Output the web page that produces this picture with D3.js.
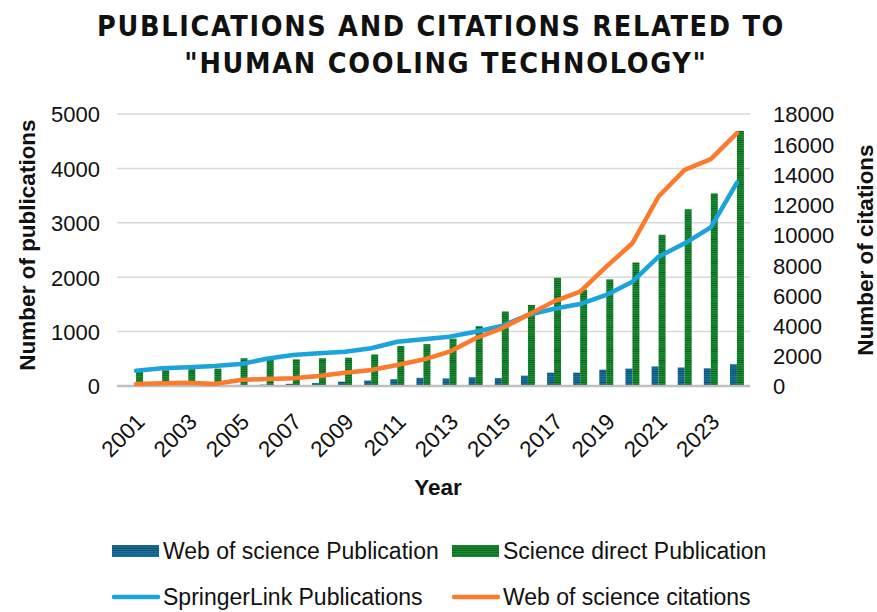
<!DOCTYPE html>
<html>
<head>
<meta charset="utf-8">
<style>
  body { margin: 0; background: #fff; }
  text { font-family: "Liberation Sans", Arial, sans-serif; fill: #111; }
  .title { font-family: "Liberation Sans Narrow", "DejaVu Sans Condensed", sans-serif; font-weight: bold; font-size: 28.5px; letter-spacing: 1.7px; }
  .tick text { font-size: 22px; }
  .axis-title { font-weight: bold; font-size: 22.5px; }
  .legend text { font-size: 23px; }
</style>
</head>
<body>
<script src="https://cdn.jsdelivr.net/npm/d3@7"></script>
<script>

var years = d3.range(2001, 2025);
var wosPubs = [5, 8, 10, 15, 20, 25, 40, 55, 80, 100, 125, 150, 140, 160, 145, 190, 245, 245, 300, 320, 360, 340, 325, 400];
var sdPubs = [270, 290, 310, 320, 510, 480, 490, 510, 520, 580, 735, 770, 870, 1100, 1370, 1490, 1990, 1770, 1960, 2270, 2780, 3250, 3540, 4690];
var springer = [281, 325, 343, 368, 404, 500, 570, 600, 630, 693, 814, 858, 907, 998, 1103, 1305, 1420, 1507, 1673, 1917, 2377, 2623, 2917, 3737];
var wosCites = [130, 180, 220, 130, 400, 470, 520, 660, 880, 1060, 1390, 1750, 2270, 3160, 3820, 4700, 5600, 6245, 7900, 9450, 12540, 14300, 15010, 16735];
var leftTicks = [0, 1000, 2000, 3000, 4000, 5000];
var rightTicks = d3.range(0, 18001, 2000);
var yearLabels = years.filter(function(d){ return (d - 2001) % 2 == 0; });

var width = 877, height = 612;
var plot = {left: 123, right: 750, top: 114, bottom: 386};

var svg = d3.select("body").append("svg")
  .attr("width", width)
  .attr("height", height);

// stripe patterns for the bars
var defs = svg.append("defs");
function stripes(id, base, line) {
  var p = defs.append("pattern")
    .attr("id", id)
    .attr("patternUnits", "userSpaceOnUse")
    .attr("width", 4).attr("height", 2.2);
  p.append("rect").attr("width", 4).attr("height", 2.2).attr("fill", base);
  p.append("rect").attr("y", 1.3).attr("width", 4).attr("height", 0.9).attr("fill", line);
}
stripes("wosPat", "#1d77a3", "#0d4b6c");
stripes("sdPat", "#1b9435", "#0a5c1b");

var x = d3.scaleBand().domain(years).range([plot.left, plot.right]).padding(0);
var x1 = d3.scaleBand().domain(["wos", "sd"]).range([0, x.bandwidth()]).paddingInner(0).paddingOuter(0.87);
var y = d3.scaleLinear().domain([0, 5000]).range([plot.bottom, plot.top]);
var y2 = d3.scaleLinear().domain([0, 18000]).range([plot.bottom, plot.top]);

// title
svg.append("text").attr("class", "title").attr("x", 441).attr("y", 36)
  .attr("text-anchor", "middle").text("PUBLICATIONS AND CITATIONS RELATED TO");
svg.append("text").attr("class", "title").attr("x", 446).attr("y", 73)
  .attr("text-anchor", "middle").text("\"HUMAN COOLING TECHNOLOGY\"");

// gridlines
svg.append("g").selectAll("line").data(leftTicks.slice(1)).enter()
  .append("line")
  .attr("x1", plot.left - 6).attr("x2", plot.right)
  .attr("y1", function(d){ return y(d); }).attr("y2", function(d){ return y(d); })
  .attr("stroke", "#d9d9d9").attr("stroke-width", 1.5);

// left axis
var gl = svg.append("g")
  .attr("transform", "translate(" + (plot.left - 23) + ",0)")
  .call(d3.axisLeft(y).tickValues(leftTicks).tickSize(0).tickPadding(0).tickFormat(d3.format("d")));
gl.select(".domain").remove();

// right axis
var gr = svg.append("g")
  .attr("transform", "translate(" + (plot.right + 23) + ",0)")
  .call(d3.axisRight(y2).tickValues(rightTicks).tickSize(0).tickPadding(0).tickFormat(d3.format("d")));
gr.select(".domain").remove();
svg.selectAll(".tick text").attr("fill", "#111").attr("dy", "0.36em");

// bars
var groups = svg.append("g").selectAll("g").data(years).enter()
  .append("g")
  .attr("transform", function(d){ return "translate(" + x(d) + ",0)"; });
groups.append("rect")
  .attr("x", x1("wos")).attr("width", x1.bandwidth())
  .attr("y", function(d, i){ return y(wosPubs[i]); })
  .attr("height", function(d, i){ return plot.bottom - y(wosPubs[i]); })
  .attr("fill", "url(#wosPat)");
groups.append("rect")
  .attr("x", x1("sd")).attr("width", x1.bandwidth())
  .attr("y", function(d, i){ return y(sdPubs[i]); })
  .attr("height", function(d, i){ return plot.bottom - y(sdPubs[i]); })
  .attr("fill", "url(#sdPat)");

// baseline
svg.append("line")
  .attr("x1", plot.left - 6).attr("x2", plot.right)
  .attr("y1", plot.bottom).attr("y2", plot.bottom)
  .attr("stroke", "#bfbfbf").attr("stroke-width", 2.5);

// lines
var cx = function(d){ return x(d) + x.bandwidth() / 2; };
var springerLine = d3.line().x(function(d, i){ return cx(years[i]); }).y(function(d){ return y(d); });
var citeLine = d3.line().x(function(d, i){ return cx(years[i]); }).y(function(d){ return y2(d); });
svg.append("path").datum(springer).attr("d", springerLine)
  .attr("fill", "none").attr("stroke", "#1aa3dc").attr("stroke-width", 4.5)
  .attr("stroke-linejoin", "round").attr("stroke-linecap", "round");
svg.append("path").datum(wosCites).attr("d", citeLine)
  .attr("fill", "none").attr("stroke", "#fb7a2c").attr("stroke-width", 4.5)
  .attr("stroke-linejoin", "round").attr("stroke-linecap", "round");

// x labels
svg.append("g").selectAll("text").data(yearLabels).enter()
  .append("text")
  .attr("transform", function(d){ return "translate(" + (cx(d) - 1) + "," + (plot.bottom + 26) + ") rotate(-45)"; })
  .attr("text-anchor", "end")
  .attr("dy", "0.7em")
  .style("font-size", "22.5px")
  .text(function(d){ return d; });

// axis titles
svg.append("text").attr("class", "axis-title")
  .attr("transform", "translate(35,245) rotate(-90)")
  .attr("text-anchor", "middle").text("Number of publications");
svg.append("text").attr("class", "axis-title")
  .attr("transform", "translate(873,250) rotate(-90)")
  .attr("text-anchor", "middle").text("Number of citations");
svg.append("text").attr("class", "axis-title")
  .attr("x", 438).attr("y", 495)
  .attr("text-anchor", "middle").text("Year");

// legend
var legendItems = [
  {name: "Web of science Publication", type: "bar", fill: "url(#wosPat)", x: 112, y: 551},
  {name: "Science direct Publication", type: "bar", fill: "url(#sdPat)", x: 452, y: 551},
  {name: "SpringerLink Publications", type: "line", fill: "#1aa3dc", x: 112, y: 597},
  {name: "Web of science citations", type: "line", fill: "#fb7a2c", x: 452, y: 597}
];
var lg = svg.append("g").attr("class", "legend").selectAll("g").data(legendItems).enter()
  .append("g")
  .attr("transform", function(d){ return "translate(" + d.x + "," + d.y + ")"; });
lg.filter(function(d){ return d.type == "bar"; }).append("rect")
  .attr("x", 0).attr("y", -6).attr("width", 47).attr("height", 12)
  .attr("fill", function(d){ return d.fill; });
lg.filter(function(d){ return d.type == "line"; }).append("line")
  .attr("x1", 2).attr("x2", 46).attr("y1", 0).attr("y2", 0)
  .attr("stroke", function(d){ return d.fill; }).attr("stroke-width", 4.5)
  .attr("stroke-linecap", "round");
lg.append("text").attr("x", 51).attr("dy", "0.36em").text(function(d){ return d.name; });

</script>
</body>
</html>
